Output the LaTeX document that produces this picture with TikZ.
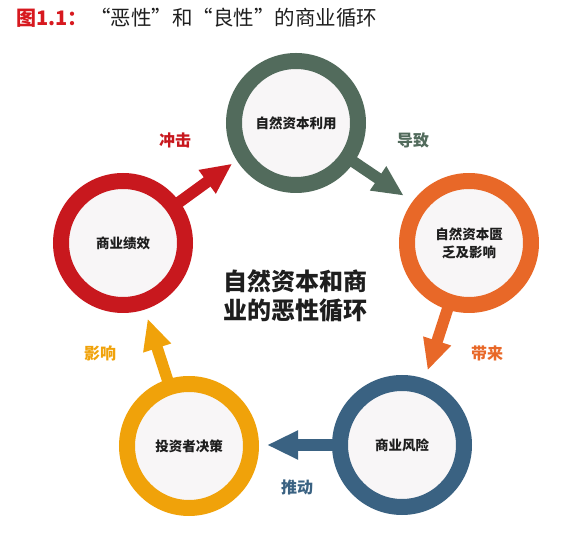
\documentclass[tikz,border=0pt]{standalone}
\usepackage{fontspec}
\setmainfont{Noto Sans CJK SC}
\usetikzlibrary{arrows.meta,backgrounds,calc}
\definecolor{cgreen}{RGB}{82,107,92}
\definecolor{corange}{RGB}{232,104,40}
\definecolor{cblue}{RGB}{58,98,130}
\definecolor{cyellow}{RGB}{240,162,10}
\definecolor{cred}{RGB}{200,24,30}
\definecolor{ctitle}{RGB}{215,25,31}
\definecolor{ringfill}{RGB}{248,246,247}
\definecolor{ctext}{RGB}{30,30,30}
\tikzset{
 ring/.style={circle, line width=16pt, minimum size=124pt, fill=ringfill, inner sep=0pt,
   font=\bfseries\fontsize{13.5}{18}\selectfont, align=center, text=ctext},
 arr/.style={line width=11.5pt, -{Triangle[width=27pt,length=31pt]}},
 lab/.style={font=\bfseries\fontsize{16}{19}\selectfont},
}
\begin{document}
\begin{tikzpicture}[x=1pt,y=1pt]
\useasboundingbox (0,0) rectangle (582,536);
% title
\node[anchor=west, text=ctitle, font=\bfseries\fontsize{20}{23}\selectfont, inner sep=0pt] (tnum) at (16,518) {图1.1：};
\node[anchor=west, text=ctext, font=\fontsize{20.5}{24}\selectfont, inner sep=0pt] (ttext) at (90,518) {“恶性”和“良性”的商业循环};
% circles
\node[ring, draw=cgreen] (g) at (296,413) {自然资本利用};
\node[ring, draw=corange] (o) at (469,293) {自然资本匮\\乏及影响};
\node[ring, draw=cblue] (b) at (402,91) {商业风险};
\node[ring, draw=cyellow] (y) at (189,90) {投资者决策};
\node[ring, draw=cred] (r) at (123,293) {商业绩效};
% arrow tips
\coordinate (gt) at ($(g.center)+(-34:130pt)$);
\coordinate (ot) at ($(o.center)+(-108:134pt)$);
\coordinate (bt) at ($(b.center)+(180:135pt)$);
\coordinate (yt) at ($(y.center)+(108:134pt)$);
\coordinate (rt) at ($(r.center)+(36:135pt)$);
\begin{scope}[on background layer]
\draw[arr, cgreen] (g.center) -- (gt);
\draw[arr, corange] (o.center) -- (ot);
\draw[arr, cblue] (b.center) -- (bt);
\draw[arr, cyellow] (y.center) -- (yt);
\draw[arr, cred] (r.center) -- (rt);
\end{scope}
% labels
\node[lab, text=cred] (l1) at (175,396) {冲击};
\node[lab, text=cgreen] (l2) at (413,396) {导致};
\node[lab, text=corange] (l3) at (487,183) {带来};
\node[lab, text=cblue] (l4) at (297,49) {推动};
\node[lab, text=cyellow] (l5) at (100,183) {影响};
% centre
\node[font=\bfseries\fontsize{24}{29}\selectfont, align=center, text=ctext] (c) at (295,240) {自然资本和商\\业的恶性循环};
\end{tikzpicture}
\end{document}
